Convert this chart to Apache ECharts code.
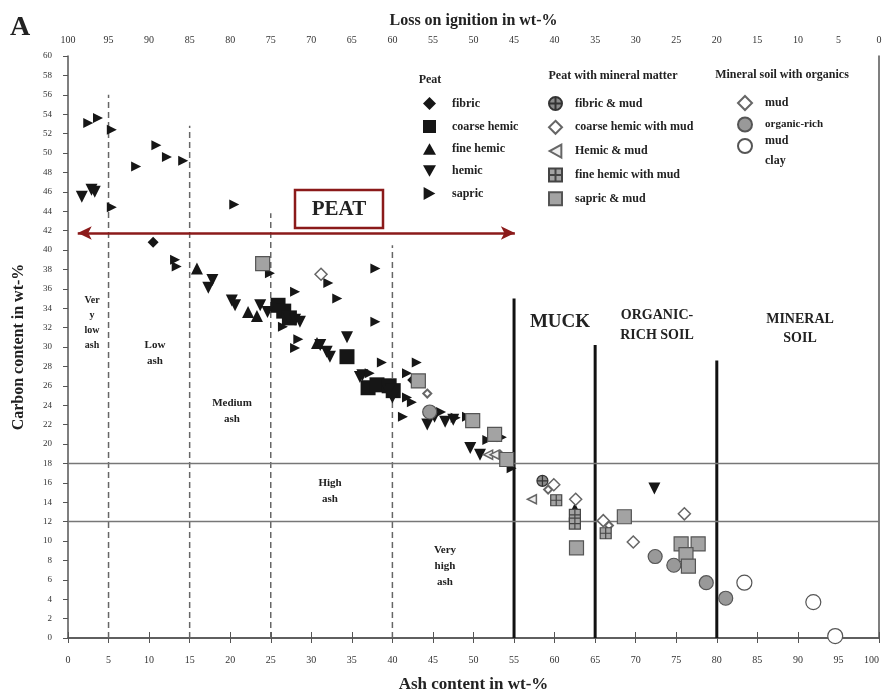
<!DOCTYPE html>
<html>
<head>
<meta charset="utf-8">
<title>Carbon vs ash</title>
<script src="https://cdn.jsdelivr.net/npm/echarts@6/dist/echarts.min.js"></script>
<style>
  html, body { margin: 0; padding: 0; background: #fff; overflow: hidden; width: 885px; height: 692px; }
  #chart { width: 885px; height: 692px; }
</style>
</head>
<body>
<div id="chart"></div>
<script>
// [ash wt-%, carbon wt-%]
var fibric = [[10.5, 40.8], [42.5, 26.6]];
var coarseHemic = [[25.9, 34.3], [26.6, 33.7], [27.3, 33.0], [34.4, 29.0], [37.0, 25.8], [38.1, 26.1], [39.6, 26.0], [40.1, 25.5]];
var fineHemic = [[15.9, 38.1], [22.2, 33.6], [23.3, 33.2], [30.7, 30.4], [62.5, 13.3]];
var hemic = [[1.7, 45.5], [2.9, 46.2], [3.3, 46.0], [17.8, 36.9], [17.3, 36.1], [20.2, 34.8], [20.6, 34.3],
  [23.7, 34.3], [24.6, 33.6], [27.2, 33.0], [28.0, 32.8], [28.6, 32.6], [34.4, 31.0], [31.1, 30.2], [31.9, 29.5],
  [32.3, 29.0], [36.3, 27.1], [36.0, 26.9], [39.5, 25.4], [40.0, 24.8], [44.3, 22.0], [45.2, 22.8], [46.5, 22.3],
  [47.5, 22.5], [49.6, 19.6], [50.8, 18.9], [72.3, 15.4]];
var sapric = [[2.5, 53.1], [3.7, 53.6], [5.4, 52.4], [8.4, 48.6], [10.9, 50.8], [12.2, 49.6], [14.2, 49.2],
  [5.4, 44.4], [20.5, 44.7], [13.2, 39.0], [13.4, 38.3], [24.9, 37.6], [28.0, 35.7], [32.1, 36.6], [33.2, 35.0],
  [37.9, 38.1], [37.9, 32.6], [26.5, 32.1], [28.4, 30.8], [28.0, 29.9], [38.7, 28.4], [43.0, 28.4], [37.2, 27.3],
  [41.8, 27.3], [41.8, 24.8], [42.4, 24.3], [41.3, 22.8], [46.0, 23.3], [47.8, 22.7], [49.2, 22.8], [52.3, 21.1],
  [53.5, 20.7], [51.7, 20.4], [54.7, 17.5]];
var fibricMud = [[58.5, 16.2]];
var coarseHemicMud = [[44.3, 25.2], [59.2, 15.3], [66.7, 11.6], [53.3, 18.9]];
var hemicMud = [[57.2, 14.3], [51.8, 18.9], [52.6, 18.9]];
var fineHemicMud = [[60.2, 14.2], [62.5, 12.7], [62.5, 11.8], [66.3, 10.8]];
var sapricMud = [[24.0, 38.6], [43.2, 26.5], [49.9, 22.4], [52.6, 21.0], [54.1, 18.4], [62.7, 9.3], [68.6, 12.5],
  [75.6, 9.7], [77.7, 9.7], [76.2, 8.6], [76.5, 7.4]];
var mud = [[31.2, 37.5], [59.9, 15.8], [62.6, 14.3], [66.0, 12.1], [69.7, 9.9], [76.0, 12.8]];
var organicRichMud = [[44.6, 23.3], [72.4, 8.4], [74.7, 7.5], [78.7, 5.7], [81.1, 4.1]];
var clay = [[83.4, 5.7], [91.9, 3.7], [94.6, 0.2]];

// boundaries [ash, top of line]
var ashClassLines = [[5, 56], [15, 52.8], [25, 43.8], [40, 40.5]];
var soilClassLines = [[55, 35], [65, 30.2], [80, 28.6]];
var carbonLimits = [12, 18];
var peatRange = [1.2, 55.1, 41.75];

var serif = '"Liberation Serif", "Times New Roman", serif';
var black = '#161616';
var grayFill = '#a3a3a3';
var grayEdge = '#555';

// custom shapes
var triUp = 'path://M10,0 L20,18 L0,18 Z';
var triDown = 'path://M0,0 L20,0 L10,18 Z';
var triRight = 'path://M0,0 L18,10 L0,20 Z';
var triLeft = 'path://M18,0 L0,10 L18,20 Z';
var crossCircle = 'path://M0,10 A10,10 0 1,1 20,10 A10,10 0 1,1 0,10 Z M10,0 L10,20 M0,10 L20,10';
var gridSquare = 'path://M0,0 L20,0 L20,20 L0,20 Z M10,0 L10,20 M0,10 L20,10';

var chart = echarts.init(document.getElementById('chart'));

var series = [];

ashClassLines.forEach(function (l) {
  series.push({
    type: 'line', silent: true, symbol: 'none', z: 1,
    data: [[l[0], 0], [l[0], l[1]]],
    lineStyle: { color: '#666', width: 1.5, type: [6, 4] }
  });
});
soilClassLines.forEach(function (l) {
  series.push({
    type: 'line', silent: true, symbol: 'none', z: 1,
    data: [[l[0], 0], [l[0], l[1]]],
    lineStyle: { color: '#111', width: 3 }
  });
});
carbonLimits.forEach(function (c) {
  series.push({
    type: 'line', silent: true, symbol: 'none', z: 1,
    data: [[0, c], [100, c]],
    lineStyle: { color: '#777', width: 1.5 }
  });
});
series.push({
  type: 'line', silent: true, symbol: 'none', data: [], z: 1,
  markLine: {
    silent: true,
    symbol: ['arrow', 'arrow'],
    symbolSize: [10, 14],
    label: { show: false },
    lineStyle: { color: '#8b1a1a', width: 2.5, type: 'solid' },
    data: [[{ coord: [peatRange[0], peatRange[2]] }, { coord: [peatRange[1], peatRange[2]] }]]
  }
});

function sc(name, data, symbol, size, fill, edge, bw) {
  return {
    name: name, type: 'scatter', data: data, symbol: symbol, symbolSize: size, z: 3,
    itemStyle: { color: fill, borderColor: edge, borderWidth: bw, opacity: 1 }
  };
}

series.push(
  sc('fibric', fibric, 'diamond', 11, black, black, 0),
  sc('coarse hemic', coarseHemic, 'rect', 15, black, black, 0),
  sc('fine hemic', fineHemic, triUp, 12, black, black, 0),
  sc('hemic', hemic, triDown, 12, black, black, 0),
  sc('sapric', sapric, triRight, 10, black, black, 0),
  sc('fibric & mud', fibricMud, crossCircle, 11, '#8a8a8a', '#333', 1.2),
  sc('coarse hemic with mud', coarseHemicMud, 'diamond', 8, '#fff', '#666', 2),
  sc('Hemic & mud', hemicMud, triLeft, 9, '#eee', '#666', 1.5),
  sc('fine hemic with mud', fineHemicMud, gridSquare, 11, grayFill, '#444', 1.2),
  sc('sapric & mud', sapricMud, 'rect', 14, grayFill, grayEdge, 1.2),
  sc('mud', mud, 'diamond', 12, '#fff', '#666', 1.5),
  sc('organic-rich mud', organicRichMud, 'circle', 14, '#999', grayEdge, 1.2),
  sc('clay', clay, 'circle', 15, '#fff', grayEdge, 1.2)
);

var legendText = { fontFamily: serif, fontWeight: 'bold', fontSize: 12, color: '#222' };

function txt(x, y, text, size, extra) {
  var s = {
    text: text, font: 'bold ' + size + 'px ' + serif, fill: '#222',
    textAlign: 'center', textVerticalAlign: 'middle'
  };
  for (var k in extra) s[k] = extra[k];
  return { type: 'text', x: x, y: y, z: 10, style: s };
}

chart.setOption({
  backgroundColor: '#fff',
  animation: false,
  grid: { left: 68, right: 6, top: 56, bottom: 54, outerBoundsMode: 'none', containLabel: false },
  xAxis: [{
    type: 'value', min: 0, max: 100, interval: 5, position: 'bottom',
    name: 'Ash content in wt-%', nameLocation: 'middle', nameGap: 38,
    nameTextStyle: { fontFamily: serif, fontWeight: 'bold', fontSize: 17, color: '#222' },
    axisLine: { lineStyle: { color: '#555', width: 1.5 } },
    axisTick: { length: 5, lineStyle: { color: '#555' } },
    axisLabel: { fontFamily: serif, fontSize: 10, color: '#333', margin: 17, alignMaxLabel: 'right' },
    splitLine: { show: false }
  }, {
    type: 'value', min: 0, max: 100, interval: 5, position: 'top', inverse: true,
    name: 'Loss on ignition in wt-%', nameLocation: 'middle', nameGap: 27,
    nameTextStyle: { fontFamily: serif, fontWeight: 'bold', fontSize: 16, color: '#222' },
    axisLine: { lineStyle: { color: '#555', width: 1.5 } },
    axisTick: { length: 6, lineStyle: { color: '#555' } },
    axisLabel: { fontFamily: serif, fontSize: 10, color: '#333', margin: 11 },
    splitLine: { show: false }
  }],
  yAxis: [{
    type: 'value', min: 0, max: 60, interval: 2,
    name: 'Carbon content in wt-%', nameLocation: 'middle', nameGap: 41,
    nameTextStyle: { fontFamily: serif, fontWeight: 'bold', fontSize: 16, color: '#222' },
    axisLine: { show: true, lineStyle: { color: '#555', width: 1.5 } },
    axisTick: { show: true, length: 5, lineStyle: { color: '#555' } },
    axisLabel: { fontFamily: serif, fontSize: 9, color: '#333', margin: 16 },
    splitLine: { show: false }
  }, {
    type: 'value', min: 0, max: 60, position: 'right',
    axisLine: { show: true, lineStyle: { color: '#555', width: 1.5 } },
    axisTick: { show: false }, axisLabel: { show: false }, splitLine: { show: false }
  }],
  legend: [{
    orient: 'vertical', left: 418, top: 92, itemWidth: 13, itemHeight: 13, itemGap: 10,
    selectedMode: false, textStyle: Object.assign({ padding: [0, 0, 0, 11] }, legendText),
    data: ['fibric', 'coarse hemic', 'fine hemic', 'hemic', 'sapric']
  }, {
    orient: 'vertical', left: 543, top: 91, itemWidth: 13, itemHeight: 13, itemGap: 8.8,
    selectedMode: false, textStyle: Object.assign({ padding: [0, 0, 0, 8] }, legendText),
    data: ['fibric & mud', 'coarse hemic with mud', 'Hemic & mud', 'fine hemic with mud', 'sapric & mud']
  }, {
    orient: 'vertical', left: 732, top: 90, itemWidth: 14, itemHeight: 14, itemGap: 5.5,
    selectedMode: false,
    formatter: function (n) { return n === 'mud' ? n : ''; },
    textStyle: Object.assign({ padding: [0, 0, 0, 8] }, legendText),
    data: ['mud', 'organic-rich mud', 'clay']
  }],
  graphic: [
    txt(20, 28, 'A', 28),
    txt(430, 80, 'Peat', 12),
    txt(613, 76, 'Peat with mineral matter', 12),
    txt(782, 75, 'Mineral soil with organics', 12),
    txt(765, 124, 'organic-rich', 11, { textAlign: 'left' }),
    txt(765, 141, 'mud', 12, { textAlign: 'left' }),
    txt(765, 161, 'clay', 12, { textAlign: 'left' }),
    { type: 'rect', z: 9, shape: { x: 295, y: 190, width: 88, height: 38 },
      style: { fill: '#fff', stroke: '#8b1a1a', lineWidth: 2.5 } },
    txt(339, 210, 'PEAT', 21),
    txt(92, 323, 'Ver\ny\nlow\nash', 10, { lineHeight: 15 }),
    txt(155, 353, 'Low\nash', 11, { lineHeight: 16 }),
    txt(232, 411, 'Medium\nash', 11, { lineHeight: 16 }),
    txt(330, 491, 'High\nash', 11, { lineHeight: 16 }),
    txt(445, 566, 'Very\nhigh\nash', 11, { lineHeight: 16 }),
    txt(560, 322, 'MUCK', 19),
    txt(657, 325, 'ORGANIC-\nRICH SOIL', 14, { lineHeight: 20 }),
    txt(800, 329, 'MINERAL\nSOIL', 14, { lineHeight: 19 })
  ],
  series: series
});
</script>
</body>
</html>
